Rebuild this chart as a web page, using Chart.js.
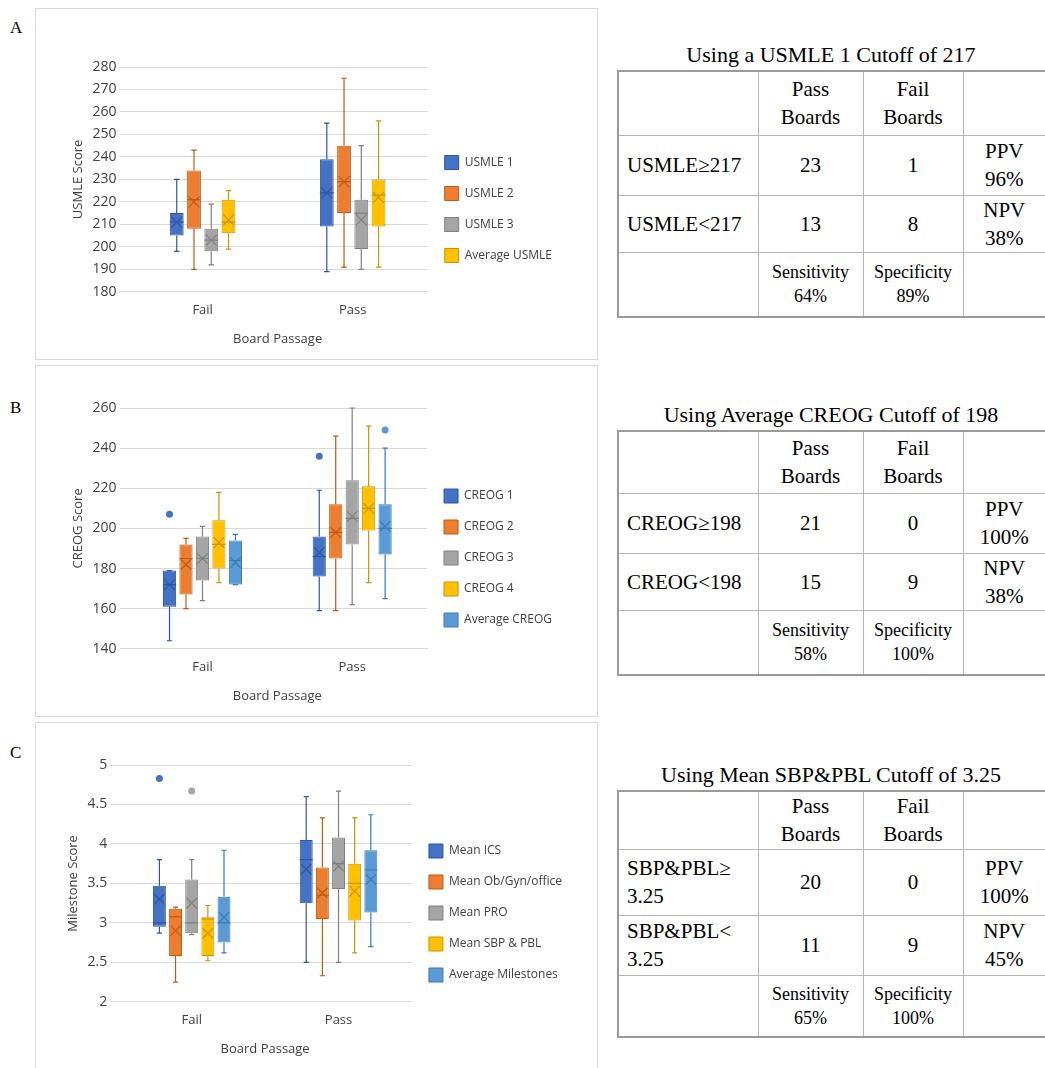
<!DOCTYPE html>
<html>
<head>
<meta charset="utf-8">
<script src="https://cdn.jsdelivr.net/npm/chart.js@4"></script>
<style>
  body { margin: 0; background: #fff; width: 1045px; height: 1068px; position: relative; overflow: hidden; }
  .letra { position: absolute; left: 10px; font-family: 'Liberation Serif', serif; font-size: 17px; }
  .panel { position: absolute; left: 35px; width: 561px; border: 1px solid #d9d9d9; background: #fff; }
  .titulo { position: absolute; left: 617px; width: 428px; text-align: center; font-family: 'Liberation Serif', serif; font-size: 22px; }
  table.tabla { position: absolute; left: 617px; width: 430px; border-collapse: collapse; border: 2px solid #9a9a9a;
    font-family: 'Liberation Serif', serif; font-size: 21px; }
  table.tabla td { border: 1px solid #b5b5b5; text-align: center; vertical-align: middle; padding: 0; line-height: 1.35; }
  table.tabla td.izq { text-align: left; padding-left: 8px; }
  table.tabla tr.ult td { font-size: 18px; }
</style>
</head>
<body>
<div class="letra" style="top:18px">A</div>
<div class="letra" style="top:398px">B</div>
<div class="letra" style="top:743px">C</div>

<div class="panel" style="top:8px;height:350px"><canvas id="gA"></canvas></div>
<div class="panel" style="top:365px;height:350px"><canvas id="gB"></canvas></div>
<div class="panel" style="top:722px;height:346px"><canvas id="gC"></canvas></div>

<div class="titulo" style="top:42px">Using a USMLE 1 Cutoff of 217</div>
<table class="tabla" style="top:70px">
  <colgroup><col style="width:140px"><col style="width:105px"><col style="width:100px"><col style="width:83px"></colgroup>
  <tr style="height:64px"><td></td><td>Pass<br>Boards</td><td>Fail<br>Boards</td><td></td></tr>
  <tr style="height:60px"><td class="izq">USMLE≥217</td><td>23</td><td>1</td><td>PPV<br>96%</td></tr>
  <tr style="height:57px"><td class="izq">USMLE&lt;217</td><td>13</td><td>8</td><td>NPV<br>38%</td></tr>
  <tr class="ult" style="height:64px"><td></td><td>Sensitivity<br>64%</td><td>Specificity<br>89%</td><td></td></tr>
</table>

<div class="titulo" style="top:402px">Using Average CREOG Cutoff of 198</div>
<table class="tabla" style="top:430px">
  <colgroup><col style="width:140px"><col style="width:105px"><col style="width:100px"><col style="width:83px"></colgroup>
  <tr style="height:62px"><td></td><td>Pass<br>Boards</td><td>Fail<br>Boards</td><td></td></tr>
  <tr style="height:60px"><td class="izq">CREOG≥198</td><td>21</td><td>0</td><td>PPV<br>100%</td></tr>
  <tr style="height:57px"><td class="izq">CREOG&lt;198</td><td>15</td><td>9</td><td>NPV<br>38%</td></tr>
  <tr class="ult" style="height:64px"><td></td><td>Sensitivity<br>58%</td><td>Specificity<br>100%</td><td></td></tr>
</table>

<div class="titulo" style="top:762px">Using Mean SBP&amp;PBL Cutoff of 3.25</div>
<table class="tabla" style="top:790px">
  <colgroup><col style="width:140px"><col style="width:105px"><col style="width:100px"><col style="width:83px"></colgroup>
  <tr style="height:55px"><td></td><td>Pass<br>Boards</td><td>Fail<br>Boards</td><td></td></tr>
  <tr style="height:66px"><td class="izq">SBP&amp;PBL≥<br>3.25</td><td>20</td><td>0</td><td>PPV<br>100%</td></tr>
  <tr style="height:60px"><td class="izq">SBP&amp;PBL&lt;<br>3.25</td><td>11</td><td>9</td><td>NPV<br>45%</td></tr>
  <tr class="ult" style="height:62px"><td></td><td>Sensitivity<br>65%</td><td>Specificity<br>100%</td><td></td></tr>
</table>

<script>
// categorias y colores
const categorias = ['Fail', 'Pass'];
const colores = ['#4472C4', '#ED7D31', '#A5A5A5', '#FFC000', '#5B9BD5'];
const bordes = ['#2F55A0', '#C05A17', '#7F7F7F', '#C89500', '#3A7ABA'];

// Panel A: [min, q1, mediana, q3, max] por categoria (Fail, Pass)
const usmleSeries = ['USMLE 1', 'USMLE 2', 'USMLE 3', 'Average USMLE'];
const usmleCajas = [
    [[198, 205, 211, 215, 230], [189, 209, 224, 239, 255]],
    [[190, 208, 221, 234, 243], [191, 215, 229, 245, 275]],
    [[192, 198, 203, 208, 219], [190, 199, 215, 221, 245]],
    [[199, 206, 211, 221, 225], [191, 209, 223, 230, 256]]
];
const usmleMedias = [[211, 224], [220, 229], [203, 212], [212, 222]];
const usmleAtipicos = [[[], []], [[], []], [[], []], [[], []]];

// Panel B
const creogSeries = ['CREOG 1', 'CREOG 2', 'CREOG 3', 'CREOG 4', 'Average CREOG'];
const creogCajas = [
    [[144, 161, 172, 179, 179], [159, 176, 186, 196, 219]],
    [[160, 167, 185, 192, 195], [159, 185, 198, 212, 246]],
    [[164, 174, 185, 196, 201], [162, 192, 205, 224, 260]],
    [[173, 180, 192, 204, 218], [173, 199, 210, 221, 251]],
    [[172, 172, 184, 194, 197], [165, 187, 200, 212, 240]]
];
const creogMedias = [[172, 188], [182, 198], [185, 206], [193, 210], [183, 201]];
const creogAtipicos = [[[207], [236]], [[], []], [[], []], [[], []], [[], [249]]];

// Panel C
const hitosSeries = ['Mean ICS', 'Mean Ob/Gyn/office', 'Mean PRO', 'Mean SBP & PBL', 'Average Milestones'];
const hitosCajas = [
    [[2.87, 2.95, 3.0, 3.47, 3.8], [2.5, 3.25, 3.8, 4.05, 4.6]],
    [[2.25, 2.58, 3.08, 3.18, 3.2], [2.33, 3.05, 3.35, 3.7, 4.33]],
    [[2.85, 2.87, 3.0, 3.55, 3.8], [2.5, 3.43, 3.75, 4.08, 4.67]],
    [[2.52, 2.58, 3.05, 3.07, 3.22], [2.62, 3.03, 3.5, 3.75, 4.33]],
    [[2.62, 2.75, 3.0, 3.33, 3.92], [2.7, 3.13, 3.67, 3.92, 4.37]]
];
const hitosMedias = [[3.3, 3.68], [2.9, 3.38], [3.25, 3.72], [2.87, 3.4], [3.07, 3.55]];
const hitosAtipicos = [[[4.83], []], [[], []], [[4.67], []], [[], []], [[], []]];

const fuente = "'Open Sans', sans-serif";

// dibuja bigotes, mediana, media y atipicos sobre las barras flotantes
const pluginCajas = {
    id: 'cajas',
    afterDatasetsDraw(chart) {
        const ctx = chart.ctx;
        const y = chart.scales.y;
        chart.data.datasets.forEach((ds, i) => {
            const meta = chart.getDatasetMeta(i);
            meta.data.forEach((bar, j) => {
                const [mn, q1, md, q3, mx] = ds.cajas[j];
                const x = bar.x, w = bar.width;
                ctx.save();
                ctx.strokeStyle = ds.borderColor;
                ctx.lineWidth = 1.2;
                ctx.beginPath();
                ctx.moveTo(x, y.getPixelForValue(q3)); ctx.lineTo(x, y.getPixelForValue(mx));
                ctx.moveTo(x, y.getPixelForValue(q1)); ctx.lineTo(x, y.getPixelForValue(mn));
                const c = w * 0.2;
                ctx.moveTo(x - c, y.getPixelForValue(mx)); ctx.lineTo(x + c, y.getPixelForValue(mx));
                ctx.moveTo(x - c, y.getPixelForValue(mn)); ctx.lineTo(x + c, y.getPixelForValue(mn));
                ctx.moveTo(x - w / 2, y.getPixelForValue(md)); ctx.lineTo(x + w / 2, y.getPixelForValue(md));
                ctx.stroke();
                const ym = y.getPixelForValue(ds.medias[j]);
                const k = Math.min(6, w * 0.4);
                ctx.beginPath();
                ctx.moveTo(x - k, ym - k); ctx.lineTo(x + k, ym + k);
                ctx.moveTo(x + k, ym - k); ctx.lineTo(x - k, ym + k);
                ctx.stroke();
                ctx.fillStyle = ds.backgroundColor;
                ds.atipicos[j].forEach(v => {
                    ctx.beginPath();
                    ctx.arc(x, y.getPixelForValue(v), 3.5, 0, Math.PI * 2);
                    ctx.fill();
                });
                ctx.restore();
            });
        });
    }
};

function crearGrafica(id, series, cajas, medias, atipicos, ejeY, min, max, paso, padIzq, padDer, padTop) {
    const datasets = series.map((nombre, i) => ({
        label: nombre,
        data: cajas[i].map(c => [c[1], c[3]]),
        cajas: cajas[i],
        medias: medias[i],
        atipicos: atipicos[i],
        backgroundColor: colores[i],
        borderColor: bordes[i],
        borderWidth: 1,
        borderSkipped: false,
        barPercentage: 0.8,
        categoryPercentage: series.length === 4 ? 0.46 : 0.55
    }));
    new Chart(document.getElementById(id), {
        type: 'bar',
        data: { labels: categorias, datasets: datasets },
        options: {
            responsive: true,
            maintainAspectRatio: false,
            animation: false,
            layout: { padding: { left: padIzq, right: padDer, top: padTop, bottom: 8 } },
            plugins: {
                tooltip: { enabled: false },
                legend: {
                    position: 'right',
                    maxWidth: 200,
                    labels: { boxWidth: 14, boxHeight: 14, padding: 17, color: '#404040', font: { family: fuente, size: 12 } }
                }
            },
            scales: {
                y: {
                    min: min, max: max,
                    ticks: { stepSize: paso, color: '#404040', font: { family: fuente, size: 14 }, callback: v => v },
                    grid: { color: '#d9d9d9' },
                    border: { display: false },
                    title: { display: true, text: ejeY, color: '#404040', font: { family: fuente, size: 13 } }
                },
                x: {
                    grid: { display: false },
                    border: { color: '#d9d9d9' },
                    ticks: { color: '#404040', font: { family: fuente, size: 13 } },
                    title: { display: true, text: 'Board Passage', color: '#404040', font: { family: fuente, size: 13 }, padding: { top: 10 } }
                }
            }
        },
        plugins: [pluginCajas]
    });
}

crearGrafica('gA', usmleSeries, usmleCajas, usmleMedias, usmleAtipicos, 'USMLE Score', 180, 280, 10, 30, 35, 58);
crearGrafica('gB', creogSeries, creogCajas, creogMedias, creogAtipicos, 'CREOG Score', 140, 260, 20, 30, 35, 42);
crearGrafica('gC', hitosSeries, hitosCajas, hitosMedias, hitosAtipicos, 'Milestone Score', 2, 5, 0.5, 25, 25, 42);
</script>
</body>
</html>
